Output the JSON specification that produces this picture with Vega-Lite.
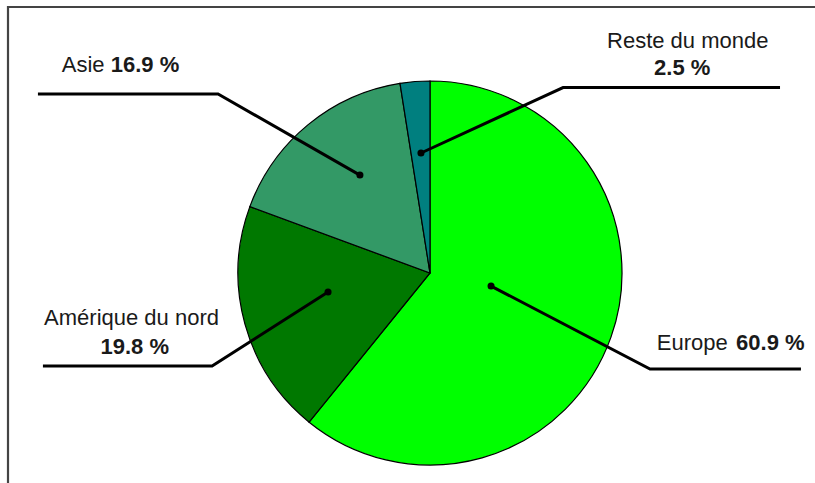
{
  "$schema": "https://vega.github.io/schema/vega-lite/v6.json",
  "width": 815,
  "height": 483,
  "padding": 0,
  "autosize": "none",
  "background": "white",
  "config": {
    "view": {"stroke": null},
    "text": {"font": "Liberation Sans", "fontSize": 22, "color": "#1a1a1a", "baseline": "alphabetic", "align": "left"}
  },
  "datasets": {
    "regions": [
      {"region": "Europe", "share": 60.9, "nx": 118.1, "ny": -40.1, "vx": 159.4, "vy": -40.1},
      {"region": "Amérique du nord", "share": 19.8, "nx": -201.0, "ny": -27.1, "vx": -171.6, "vy": -42.2},
      {"region": "Asie", "share": 16.9, "nx": -191.8, "ny": 104.5, "vx": -166.3, "vy": 104.5},
      {"region": "Reste du monde", "share": 2.5, "nx": 92.2, "ny": 117.0, "vx": 116.7, "vy": 103.1}
    ],
    "leaders": [
      {"region": "Europe", "step": 0, "x": 31.8, "y": -6.8},
      {"region": "Europe", "step": 1, "x": 114.6, "y": -50.0},
      {"region": "Europe", "step": 2, "x": 193.2, "y": -50.0},
      {"region": "Amérique du nord", "step": 0, "x": -53.1, "y": -9.9},
      {"region": "Amérique du nord", "step": 1, "x": -113.5, "y": -48.4},
      {"region": "Amérique du nord", "step": 2, "x": -201.6, "y": -48.4},
      {"region": "Asie", "step": 0, "x": -36.5, "y": 51.0},
      {"region": "Asie", "step": 1, "x": -110.4, "y": 93.2},
      {"region": "Asie", "step": 2, "x": -204.2, "y": 93.2},
      {"region": "Reste du monde", "step": 0, "x": -4.7, "y": 62.5},
      {"region": "Reste du monde", "step": 1, "x": 69.3, "y": 96.6},
      {"region": "Reste du monde", "step": 2, "x": 182.3, "y": 96.6}
    ]
  },
  "layer": [
    {
      "data": {"name": "regions"},
      "transform": [{"window": [{"op": "row_number", "as": "idx"}]}],
      "mark": {"type": "arc", "radius": 192, "stroke": "#000000", "strokeWidth": 1.2},
      "encoding": {
        "x": {"datum": 0, "type": "quantitative", "axis": null, "scale": {"domain": [-223.958, 200.521], "nice": false, "zero": false}},
        "y": {"datum": 0, "type": "quantitative", "axis": null, "scale": {"domain": [-109.375, 142.1875], "nice": false, "zero": false}},
        "theta": {"field": "share", "type": "quantitative", "stack": true},
        "order": {"field": "idx", "type": "quantitative"},
        "color": {
          "field": "region", "type": "nominal", "legend": null,
          "scale": {"domain": ["Europe", "Amérique du nord", "Asie", "Reste du monde"], "range": ["#00ff00", "#007800", "#339966", "#007f7f"]}
        }
      }
    },
    {
      "data": {"name": "leaders"},
      "mark": {"type": "line", "color": "#000000", "strokeWidth": 3, "strokeJoin": "miter"},
      "encoding": {
        "x": {"field": "x", "type": "quantitative", "axis": null, "scale": {"domain": [-223.958, 200.521], "nice": false, "zero": false}},
        "y": {"field": "y", "type": "quantitative", "axis": null, "scale": {"domain": [-109.375, 142.1875], "nice": false, "zero": false}},
        "detail": {"field": "region"},
        "order": {"field": "step", "type": "quantitative"}
      }
    },
    {
      "data": {"name": "leaders"},
      "transform": [{"filter": "datum.step === 0"}],
      "mark": {"type": "point", "filled": true, "color": "#000000", "size": 50, "opacity": 1},
      "encoding": {
        "x": {"field": "x", "type": "quantitative", "axis": null, "scale": {"domain": [-223.958, 200.521], "nice": false, "zero": false}},
        "y": {"field": "y", "type": "quantitative", "axis": null, "scale": {"domain": [-109.375, 142.1875], "nice": false, "zero": false}}
      }
    },
    {
      "data": {"name": "regions"},
      "mark": {"type": "text"},
      "encoding": {
        "x": {"field": "nx", "type": "quantitative", "axis": null, "scale": {"domain": [-223.958, 200.521], "nice": false, "zero": false}},
        "y": {"field": "ny", "type": "quantitative", "axis": null, "scale": {"domain": [-109.375, 142.1875], "nice": false, "zero": false}},
        "text": {"field": "region"}
      }
    },
    {
      "data": {"name": "regions"},
      "transform": [{"calculate": "format(datum.share, '.1f') + ' %'", "as": "pct"}],
      "mark": {"type": "text", "fontWeight": "bold"},
      "encoding": {
        "x": {"field": "vx", "type": "quantitative", "axis": null, "scale": {"domain": [-223.958, 200.521], "nice": false, "zero": false}},
        "y": {"field": "vy", "type": "quantitative", "axis": null, "scale": {"domain": [-109.375, 142.1875], "nice": false, "zero": false}},
        "text": {"field": "pct"}
      }
    },
    {
      "data": {"values": [{"edge": "top"}]},
      "mark": {"type": "rule", "color": "#444444", "strokeWidth": 2.2},
      "encoding": {
        "x": {"datum": -219.79, "type": "quantitative", "axis": null, "scale": {"domain": [-223.958, 200.521], "nice": false, "zero": false}},
        "x2": {"datum": 200.521},
        "y": {"datum": 138.54, "type": "quantitative", "axis": null, "scale": {"domain": [-109.375, 142.1875], "nice": false, "zero": false}}
      }
    },
    {
      "data": {"values": [{"edge": "left"}]},
      "mark": {"type": "rule", "color": "#444444", "strokeWidth": 2.2},
      "encoding": {
        "x": {"datum": -219.79, "type": "quantitative", "axis": null, "scale": {"domain": [-223.958, 200.521], "nice": false, "zero": false}},
        "y": {"datum": 139.1, "type": "quantitative", "axis": null, "scale": {"domain": [-109.375, 142.1875], "nice": false, "zero": false}},
        "y2": {"datum": -109.375}
      }
    }
  ]
}
